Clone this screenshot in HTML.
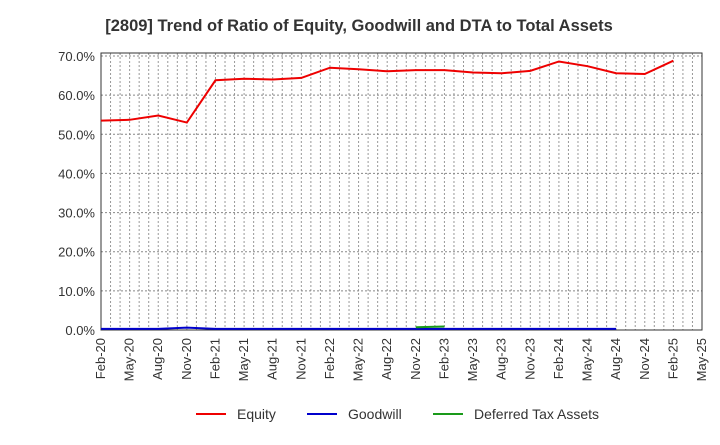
<!DOCTYPE html>
<html><head><meta charset="utf-8"><style>body{margin:0;background:#fff}svg{font-family:"Liberation Sans",sans-serif}</style></head>
<body>
<svg id="c" width="720" height="440" xmlns="http://www.w3.org/2000/svg">
<text x="359" y="31" text-anchor="middle" font-size="16.5" font-weight="bold" fill="#333">[2809]  Trend of Ratio of Equity, Goodwill and DTA to Total Assets</text>
<g id="grid"></g><g id="axes"></g><g id="series"></g>
<g font-size="14" fill="#333">
<line x1="196" y1="414" x2="226" y2="414" stroke="#e00" stroke-width="2"/><text x="237" y="419">Equity</text>
<line x1="307" y1="414" x2="337" y2="414" stroke="#00c" stroke-width="2"/><text x="348" y="419">Goodwill</text>
<line x1="433" y1="414" x2="463" y2="414" stroke="#1a9a1a" stroke-width="2"/><text x="474" y="419">Deferred Tax Assets</text>
</g>
</svg>
<script>
const xLabels=["Feb-20","May-20","Aug-20","Nov-20","Feb-21","May-21","Aug-21","Nov-21","Feb-22","May-22","Aug-22","Nov-22","Feb-23","May-23","Aug-23","Nov-23","Feb-24","May-24","Aug-24","Nov-24","Feb-25","May-25"];
const yTicks=[0,10,20,30,40,50,60,70];
const equity=[53.5,53.7,54.8,53.0,63.8,64.2,64.0,64.4,67.0,66.6,66.1,66.4,66.4,65.8,65.6,66.2,68.6,67.4,65.6,65.4,68.8];
const goodwill=[0.3,0.3,0.3,0.6,0.3,0.3,0.3,0.3,0.3,0.3,0.3,0.3,0.3,0.3,0.3,0.3,0.3,0.3,0.3];
const dta=[null,null,null,null,null,null,null,null,null,null,null,0.7,0.9];
const L=101,R=702,T=56,B=330,NS="http://www.w3.org/2000/svg";
const xs=i=>L+i*(R-L)/21, ys=v=>B-v/70*(B-T);
function mk(p,t,a){const e=document.createElementNS(NS,t);for(const k in a)e.setAttribute(k,a[k]);document.getElementById(p).appendChild(e);return e;}
for(let m=1;m<63;m++){const x=L+m*(R-L)/63;const g=mk('grid','line',{x1:x,x2:x,y1:T-3,y2:B,stroke:'#999','stroke-dasharray':'2,2'});
}
yTicks.forEach(v=>{const y=ys(v);if(v>0){const g=mk('grid','line',{x1:L,x2:R,y1:y,y2:y,stroke:'#888','stroke-dasharray':'2,2'});}
const t=mk('axes','text',{x:L-6,y:y+5,'text-anchor':'end','font-size':'13',fill:'#333'});t.textContent=v.toFixed(1)+'%';
});
const fr=mk('axes','rect',{x:L,y:T-3,width:R-L,height:B-T+3,fill:'none',stroke:'#333'});

xLabels.forEach((s,i)=>{const x=xs(i);const t=mk('axes','text',{x:x+4,y:B+8,'text-anchor':'end','font-size':'13',fill:'#333',transform:`rotate(-90 ${x+4} ${B+8})`});t.textContent=s;
});
function line(d,c,n){let p='';d.forEach((v,i)=>{if(v==null)return;p+=(p?'L':'M')+xs(i)+','+ys(v);});
const e=mk('series','path',{d:p,fill:'none',stroke:c,'stroke-width':2});}
line(goodwill,'#00c','goodwill-line');line(dta,'#1a9a1a','dta-line');line(equity,'#e00','equity-line');
</script>
</body></html>
